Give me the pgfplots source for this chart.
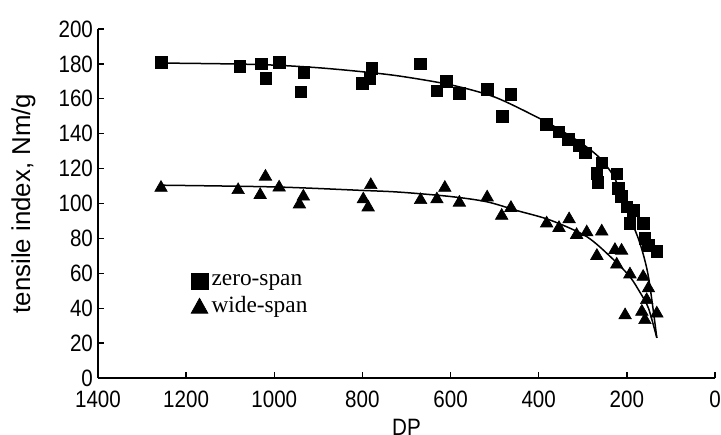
\documentclass[border=0pt]{standalone}
\usepackage{fontspec}
\setmainfont{Liberation Sans}
\newfontfamily\tickfont[FakeStretch=0.87]{Liberation Sans}
\newfontfamily\seriffont{Liberation Serif}
\usepackage{pgfplots}
\pgfplotsset{compat=1.18}
\begin{document}
\begin{tikzpicture}
\begin{axis}[
  name=ax,
  scale only axis,
  width=370.2pt, height=209.4pt,
  x dir=reverse,
  xmin=0, xmax=1400, ymin=0, ymax=200,
  xtick={0,200,...,1400}, ytick={0,20,...,200},
  axis x line=bottom, axis y line=left,
  axis line style={-, line width=0.9pt},
  tick align=inside, major tick length=3.6pt,
  tick style={line width=0.8pt, black},
  /pgf/number format/assume math mode=true,
  /pgf/number format/1000 sep={},
  ticklabel style={font=\tickfont\fontsize{14.2}{15}\selectfont},
  xticklabel style={yshift=-4.5pt},
  yticklabel style={xshift=0.5pt},
  xlabel={DP}, ylabel={tensile index, Nm/g},
  xlabel style={font=\tickfont\fontsize{14.2}{15}\selectfont, yshift=0.5pt},
  ylabel style={font=\fontsize{15.5}{16}\selectfont, yshift=7pt},
  legend style={at={(0.150,0.307)}, anchor=north west, draw=none, fill=none,
    inner sep=0pt, row sep=1pt, font=\seriffont\fontsize{14}{15}\selectfont},
  legend cell align=left,
  clip=false,
]
% fitted curves
\addplot[black, line width=0.9pt, smooth, tension=0.5, forget plot] coordinates {
(1260,180.5) (1100,180) (1000,179.3) (900,177.8) (800,175.5) (715,173) (600,168) (500,161)
(400,149) (350,142) (300,134) (261,126) (231,116) (210,104) (193,92) (170,77) (151,58) (132,23)};
\addplot[black, line width=0.9pt, smooth, tension=0.5, forget plot] coordinates {
(1260,110.5) (1000,109.5) (800,107.5) (715,106.5) (600,104) (518,101) (450,96) (374,90.5)
(291,81) (231,68) (193,58) (170,49) (151,40) (132,23)};
% zero-span
\addplot[only marks, mark=square*, mark size=3.5pt, black,
  legend image code/.code={\fill[black] (-6pt,-5pt) rectangle (4pt,5pt);}] coordinates {
(1257,181) (1078,178.5) (1030,180) (1019,171.7) (989,181) (933,175) (940,164)
(800,169) (779,177.5) (783,171.7) (669,180) (610,170) (631,164.6) (580,163)
(517,165.4) (463,162.7) (482,149.8) (382,145.3) (354,141) (333,136.7) (309,133.5)
(294,129) (257,123.4) (268,117.2) (266,112) (223,117) (219,108.7) (212,104)
(200,98) (185,95.9) (193,88.6) (163,88.6) (159,80) (151,76) (132,72.5)};
\addlegendentry{zero-span}
% wide-span
\addplot[only marks, mark=triangle*, mark size=4.3pt, black,
  legend image code/.code={\fill[black] (-6pt,-4.5pt) -- (4pt,-4.5pt) -- (-1pt,4.5pt) -- cycle;}] coordinates {
(1257,109) (1082,107.7) (1032,104.9) (1020,115.4) (989,109.2) (934,104) (943,99.5)
(781,110.6) (798,102.4) (787,97.8) (668,102) (631,102.4) (613,109) (580,100.5)
(517,103.5) (484,93) (463,97.5) (382,88.6) (354,86) (331,91) (314,82) (291,83.5)
(257,84) (268,70) (227,73.4) (212,73) (223,65) (193,59.4) (163,58) (151,51.4)
(155,44.7) (204,36) (166,38) (159,33.2) (132,37)};
\addlegendentry{wide-span}
\end{axis}
\pgfresetboundingbox
\path[use as bounding box] ([xshift=-58.8pt,yshift=-33.6pt]ax.south west) rectangle ([xshift=373.8pt,yshift=226.8pt]ax.south west);
\end{tikzpicture}
\end{document}
